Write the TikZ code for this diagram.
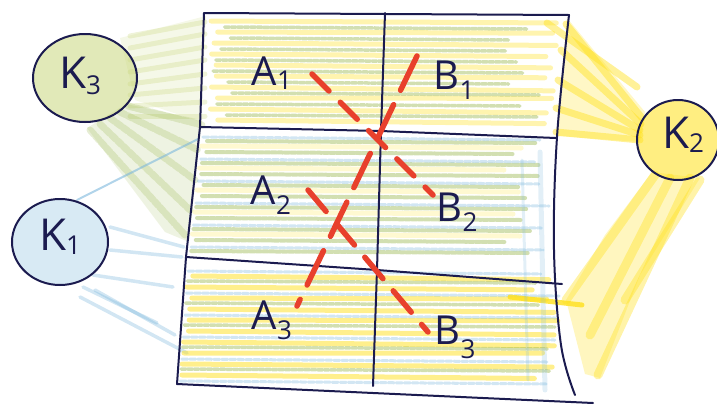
\documentclass[tikz,border=0pt]{standalone}
\usepackage{fontspec}
\setmainfont{Open Sans}
\usetikzlibrary{shapes.geometric}
\definecolor{navy}{HTML}{1B1B4F}
\definecolor{redc}{HTML}{E8402C}
\definecolor{yel}{HTML}{FFE01A}
\definecolor{grn}{HTML}{8FAE3C}
\definecolor{lgrn}{HTML}{C9D77E}
\definecolor{blu}{HTML}{7DB8DC}
\newcommand\lsub[2][-10pt]{\raisebox{#1}{\fontsize{26}{26}\selectfont #2}}
\begin{document}
\begin{tikzpicture}[x=1pt,y=-1pt,
  outline/.style={draw=navy, line width=2pt, line join=round, line cap=round},
  reddash/.style={draw=redc, line width=5.5pt, line cap=round},
  lbl/.style={text=navy, font=\fontsize{40}{40}\selectfont, inner sep=0pt},
  klbl/.style={text=navy, font=\fontsize{44}{44}\selectfont, inner sep=0pt},
  kcirc/.style={ellipse, draw=navy, line width=2pt, inner sep=0pt},
  hy/.style={draw=yel, line width=5pt, line cap=round, opacity=.35},
  hg/.style={draw=grn, line width=3.5pt, line cap=round, opacity=.4, dash pattern=on 5pt off 1.5pt},
  hb/.style={draw=blu, line width=3pt, line cap=round, opacity=.35, dash pattern=on 6pt off 2pt},
  fanstroke/.style={line width=7pt, line cap=round},
]
\useasboundingbox (0,0) rectangle (717,405);
\pgfmathsetseed{7}

% ---------- fans ----------
% K3 upper fan (light yellow-green)
\fill[lgrn, opacity=.18] (120,38) -- (206,16) -- (201,122) -- (135,100) -- cycle;
\foreach \a/\b in {36/22,48/34,60/47,72/60,84/74,95/88,106/102,116/116}
  \draw[fanstroke, line width=5pt, draw=lgrn, opacity=.3] (130,\a) -- (205,\b);
% K3 lower fan (green)
\fill[grn, opacity=.15] (87,128) -- (126,104) -- (202,120) -- (189,242) -- (165,232) -- cycle;
\foreach \a/\b/\c/\d in {90/130/185/235, 100/124/190/210, 110/118/195/180, 120/112/198/150, 128/106/202/125}
  \draw[fanstroke, draw=grn, opacity=.22, dash pattern=on 6pt off 2pt] (\a,\b) -- (\c,\d);
% K1 fan (blue)
\draw[draw=blu, line width=2pt, opacity=.6, line cap=round] (77,200) -- (198,139);
\foreach \a/\b/\c/\d in {110/227/184/247, 110/250/182/257, 93/275/173/287, 83/287/157/323, 80/297/187/353, 95/290/175/335}
  \draw[fanstroke, line width=3.5pt, draw=blu, opacity=.35] (\a,\b) -- (\c,\d);
% K2 upper fan (yellow)
\fill[yel, opacity=.25] (645,112) -- (567,18) -- (556,136) -- (640,142) -- cycle;
\foreach \a/\b/\c/\d in {642/118/566/24, 641/124/561/50, 640/130/558/80, 640/135/556/108, 640/140/556/132, 637/87/547/23}
  \draw[fanstroke, draw=yel, opacity=.45] (\a,\b) -- (\c,\d);
% K2 lower fan (yellow)
\fill[yel, opacity=.28] (652,172) -- (700,178) -- (640,275) -- (600,378) -- (585,374) -- (566,300) -- (605,235) -- cycle;
\foreach \a/\b/\c/\d in {655/175/566/300, 670/178/590/335, 690/178/598/375, 700/180/625/300}
  \draw[fanstroke, line width=9pt, draw=yel, opacity=.38] (\a,\b) -- (\c,\d);

% ---------- hatching in the grid ----------
% top row
\foreach \y in {21,32,...,120}
  \draw[hy] ({210+8*rnd},\y) -- ({558-15*rnd},{\y+2+2*rand});
\foreach \y in {27,38,...,116}
  \draw[hg] ({212+20*rnd},\y) -- ({545-40*rnd},{\y+2});
% middle row
\foreach \y in {141,152,...,251}
  \draw[hg, line width=4pt] ({204-(\y-127)*0.108+6*rnd},\y) -- ({540-40*rnd},{\y+2});
\foreach \y in {146,168,...,246}
  \draw[hy, opacity=.2] ({204-(\y-127)*0.108},\y) -- ({530-30*rnd},{\y+2});
\foreach \y in {137,159,...,247}
  \draw[hb] ({204-(\y-127)*0.108},\y) -- ({550-20*rnd},{\y+3});
% bottom row
\foreach \y in {276,287,...,381}
  \draw[hy, opacity=.5] ({189-(\y-257)*0.071+6*rnd},\y) -- ({560-30*rnd},{\y+2+2*rand});
\foreach \y in {281,303,...,379}
  \draw[hg] ({189-(\y-257)*0.071},\y) -- ({555-20*rnd},{\y+2});
\foreach \y in {271,293,...,381}
  \draw[hb] ({189-(\y-257)*0.071},\y) -- ({560-20*rnd},{\y+3});
\draw[hy, opacity=.8, line width=5pt] (510,297) -- (582,305);
% blue vertical strokes at right side
\draw[draw=blu, line width=5pt, opacity=.22, line cap=round] (540,152) -- (545,390);
\draw[draw=blu, line width=3pt, opacity=.22, line cap=round] (522,160) -- (528,380);

% ---------- grid ----------
\coordinate (tl) at (204,13);
\coordinate (tm) at (385,13);
\coordinate (tr) at (569,15);
\coordinate (ml1) at (200,127);
\coordinate (mm1) at (381,131);
\coordinate (mr1) at (556,138);
\coordinate (ml2) at (186,257);
\coordinate (mm2) at (377,270);
\coordinate (mr2) at (562,284);
\coordinate (bl) at (177,384);
\coordinate (bm) at (373,386);
\coordinate (br) at (593,403);
\draw[outline] (tl) -- (tr);
\draw[outline] (tl) -- (ml1) -- (ml2) -- (bl);
\draw[outline] (bl) -- (373,393) -- (br);
\draw[outline] plot[smooth, tension=.6] coordinates {(569,15) (557,137) (554,250) (561,345) (575,395)};
\draw[outline] (tm) -- (mm1) -- (mm2) -- (bm);
\draw[outline] (ml1) -- (mm1) -- (mr1);
\draw[outline] (ml2) -- (mm2) -- (mr2);

% ---------- circles ----------
\node[kcirc, fill=lgrn, fill opacity=.55, minimum width=104pt, minimum height=88pt] (k3) at (85,78) {};
\node[kcirc, fill=blu, fill opacity=.3, minimum width=96pt, minimum height=86pt] (k1) at (60,242) {};
\node[kcirc, fill=yel, fill opacity=.55, minimum width=82pt, minimum height=80pt] (k2) at (678,140) {};
\node[klbl] (k3t) at (80,76) {K\lsub[-6pt]{3}};
\node[klbl] (k1t) at (60,237) {K\lsub[-4pt]{1}};
\node[klbl] (k2t) at (683,135) {K\lsub[-4pt]{2}};

% ---------- red dashed links ----------
\coordinate (ra1) at (312,74);
\coordinate (rb2) at (433,195);
\coordinate (rb1) at (417,56);
\coordinate (ra3) at (297,306);
\coordinate (ra2) at (308,190);
\coordinate (rb3) at (428,332);
\draw[reddash, dash pattern=on 24pt off 16pt] (ra1) -- (rb2);
\draw[reddash, dash pattern=on 38pt off 16pt] (rb1) -- (ra3);
\draw[reddash, dash pattern=on 28pt off 16pt] (ra2) -- (rb3);

% ---------- cell labels ----------
\node[lbl] (a1) at (272,73) {A\lsub[-4pt]{1}};
\node[lbl] (b1) at (454,80) {B\lsub{1}};
\node[lbl] (a2) at (271,195) {A\lsub{2}};
\node[lbl] (b2) at (457,212) {B\lsub{2}};
\node[lbl] (a3) at (272,320) {A\lsub{3}};
\node[lbl] (b3) at (455,337) {B\lsub[-14pt]{3}};
\end{tikzpicture}
\end{document}
